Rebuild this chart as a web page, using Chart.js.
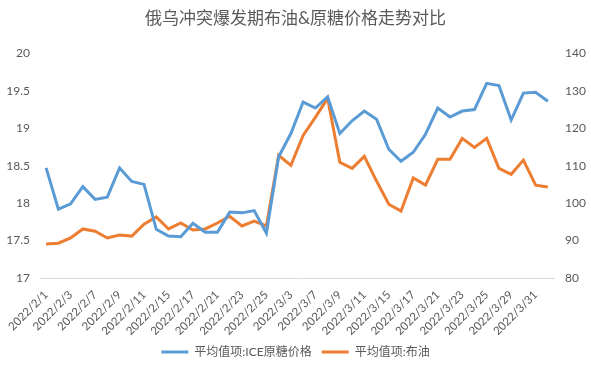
<!DOCTYPE html>
<html>
<head>
<meta charset="utf-8">
<script src="https://cdn.jsdelivr.net/npm/chart.js@4.4.1/dist/chart.umd.min.js"></script>
<style>
  html, body { margin: 0; padding: 0; background: #fff; }
  #wrap { width: 591px; height: 369px; }
</style>
</head>
<body>
<div id="wrap"><canvas id="chart" width="591" height="369"></canvas></div>
<script>
var dates = ['2022/2/1', '2022/2/2', '2022/2/3', '2022/2/4', '2022/2/7', '2022/2/8', '2022/2/9', '2022/2/10', '2022/2/11',
    '2022/2/14', '2022/2/15', '2022/2/16', '2022/2/17', '2022/2/18', '2022/2/21', '2022/2/22', '2022/2/23', '2022/2/24',
    '2022/2/25', '2022/3/2', '2022/3/3', '2022/3/4', '2022/3/7', '2022/3/8', '2022/3/9', '2022/3/10', '2022/3/11',
    '2022/3/14', '2022/3/15', '2022/3/16', '2022/3/17', '2022/3/18', '2022/3/21', '2022/3/22', '2022/3/23', '2022/3/24',
    '2022/3/25', '2022/3/28', '2022/3/29', '2022/3/30', '2022/3/31', '2022/4/1'];

// ICE raw sugar (left axis)
var sugar = [18.47, 17.92, 17.99, 18.22, 18.05, 18.08, 18.47, 18.29, 18.25, 17.65, 17.56, 17.55, 17.73, 17.61,
    17.61, 17.88, 17.87, 17.90, 17.60, 18.62, 18.93, 19.35, 19.27, 19.42, 18.93, 19.10, 19.23, 19.12, 18.72,
    18.56, 18.68, 18.92, 19.27, 19.15, 19.23, 19.25, 19.60, 19.57, 19.11, 19.47, 19.48, 19.36];

// Brent (right axis)
var brent = [89.1, 89.3, 90.7, 93.1, 92.5, 90.7, 91.5, 91.2, 94.4, 96.3, 93.1, 94.7, 92.8, 93.1, 94.7, 96.5,
    93.9, 95.2, 93.9, 112.8, 110.1, 118.1, 122.9, 128.0, 110.9, 109.3, 112.5, 105.9, 99.7, 97.9, 106.7, 104.8,
    111.7, 111.7, 117.3, 114.9, 117.3, 109.3, 107.7, 111.5, 104.8, 104.3];

var seriesNames = ['平均值项:ICE原糖价格', '平均值项:布油'];
var titleText = '俄乌冲突爆发期布油&原糖价格走势对比';

var fontFamily = "Lato, 'Noto Sans CJK SC', sans-serif";
var textColor = '#595959';

var ctx = document.getElementById('chart').getContext('2d');

new Chart(ctx, {
    type: 'line',
    data: {
        labels: dates,
        datasets: [{
            label: seriesNames[0],
            data: sugar,
            yAxisID: 'y',
            borderColor: '#5B9BD5',
            backgroundColor: '#5B9BD5',
            borderWidth: 3,
            pointRadius: 0,
            tension: 0
        }, {
            label: seriesNames[1],
            data: brent,
            yAxisID: 'y1',
            borderColor: '#ED7D31',
            backgroundColor: '#ED7D31',
            borderWidth: 3,
            pointRadius: 0,
            tension: 0
        }]
    },
    options: {
        responsive: false,
        animation: false,
        layout: { padding: { left: 0, right: 0, top: 0, bottom: 1 } },
        plugins: {
            title: {
                display: true,
                text: titleText,
                color: textColor,
                font: { family: fontFamily, size: 17, weight: 'normal' },
                padding: { top: 8, bottom: 25 }
            },
            legend: {
                position: 'bottom',
                labels: {
                    color: textColor,
                    font: { family: fontFamily, size: 12 },
                    boxWidth: 27,
                    boxHeight: 3,
                    padding: 10,
                    generateLabels: function (chart) {
                        var items = Chart.defaults.plugins.legend.labels.generateLabels(chart);
                        items.forEach(function (item) { item.lineWidth = 0; });
                        return items;
                    }
                }
            },
            tooltip: { enabled: false }
        },
        scales: {
            x: {
                offset: true,
                grid: { display: false },
                border: { display: true, color: '#d9d9d9', width: 1 },
                ticks: {
                    autoSkip: false,
                    maxRotation: 45,
                    minRotation: 45,
                    color: textColor,
                    padding: 2,
                    font: { family: fontFamily, size: 11.5 },
                    callback: function (value, index) {
                        return index % 2 === 0 ? this.getLabelForValue(value) : '';
                    }
                },
                afterFit: function (scale) { scale.height = 58; }
            },
            y: {
                position: 'left',
                min: 17,
                max: 20,
                grid: { display: false },
                border: { display: false },
                ticks: {
                    stepSize: 0.5,
                    color: textColor,
                    padding: 2,
                    font: { family: fontFamily, size: 12 },
                    callback: function (value) { return String(value); }
                },
                afterFit: function (scale) { scale.width = 40; }
            },
            y1: {
                position: 'right',
                min: 80,
                max: 140,
                grid: { display: false },
                border: { display: false },
                ticks: {
                    stepSize: 10,
                    color: textColor,
                    padding: 3,
                    font: { family: fontFamily, size: 12 },
                    callback: function (value) { return String(value); }
                },
                afterFit: function (scale) { scale.width = 37; }
            }
        }
    }
});
</script>
</body>
</html>
